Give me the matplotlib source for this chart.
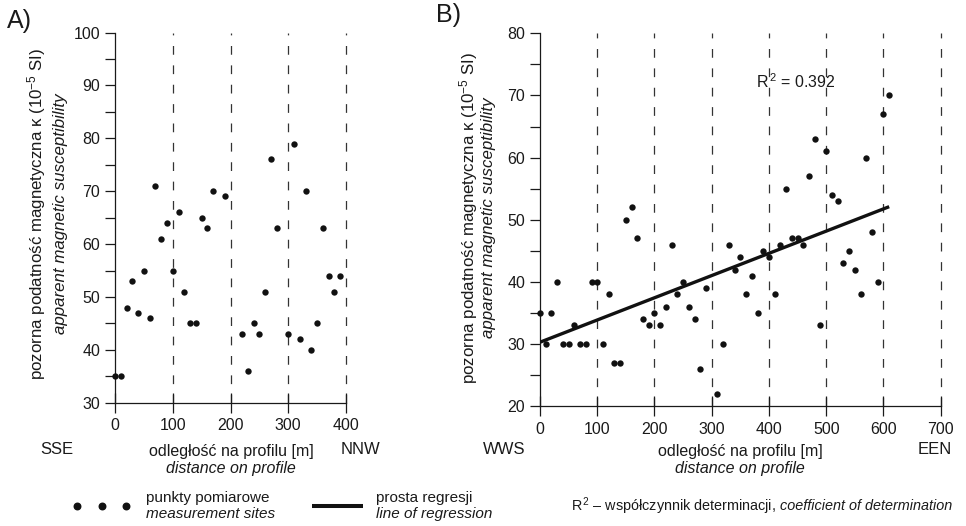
import numpy as np
import matplotlib
matplotlib.use("Agg")
import matplotlib.pyplot as plt
from matplotlib.lines import Line2D

plt.rcParams['font.family'] = ['Liberation Sans', 'DejaVu Sans']
plt.rcParams['mathtext.fontset'] = 'custom'
plt.rcParams['mathtext.rm'] = 'Liberation Sans'
plt.rcParams['mathtext.it'] = 'Liberation Sans:italic'
plt.rcParams['mathtext.bf'] = 'Liberation Sans:bold'

# ---------------- data ----------------
dist_A = [0, 10, 20, 30, 40, 50, 60, 70, 80, 90, 100, 110, 120, 130, 140, 150, 160, 170,
          190, 220, 230, 240, 250, 260, 270, 280, 300, 310, 320, 330, 340, 350, 360, 370,
          380, 390]
kappa_A = [35, 35, 48, 53, 47, 55, 46, 71, 61, 64, 55, 66, 51, 45, 45, 65, 63, 70,
           69, 43, 36, 45, 43, 51, 76, 63, 43, 79, 42, 70, 40, 45, 63, 54,
           51, 54]

dist_B = [0, 10, 20, 30, 40, 50, 60, 70, 80, 90, 100, 110, 120, 130, 140, 150, 160, 170,
          180, 190, 200, 210, 220, 230, 240, 250, 260, 270, 280, 290, 310, 320, 330, 340,
          350, 360, 370, 380, 390, 400, 410, 420, 430, 440, 450, 460, 470, 480, 490, 500,
          510, 520, 530, 540, 550, 560, 570, 580, 590, 600, 610]
kappa_B = [35, 30, 35, 40, 30, 30, 33, 30, 30, 40, 40, 30, 38, 27, 27, 50, 52, 47,
           34, 33, 35, 33, 36, 46, 38, 40, 36, 34, 26, 39, 22, 30, 46, 42,
           44, 38, 41, 35, 45, 44, 38, 46, 55, 47, 47, 46, 57, 63, 33, 61,
           54, 53, 43, 45, 42, 38, 60, 48, 40, 67, 70]

xticks_A = [0, 100, 200, 300, 400]
xticks_B = [0, 100, 200, 300, 400, 500, 600, 700]
yticks_A = [30, 40, 50, 60, 70, 80, 90, 100]
yticks_B = [20, 30, 40, 50, 60, 70, 80]
r2_label = "0.392"

# ---------------- figure ----------------
W, H = 966, 526
fig = plt.figure(figsize=(W / 100, H / 100), dpi=100)


def fx(x):
    return x / W


def fy(y):
    return 1 - y / H


axA = fig.add_axes([fx(115), fy(402.8), 231 / W, 370.3 / H])
axB = fig.add_axes([fx(540), fy(406.3), 400.7 / W, 373 / H])

INK = '#1a1a1a'
TICKFS = 11.5
R2 = r"R$^{\,2}$"


def style(ax, xticks, yticks):
    ax.set_xlim(xticks[0], xticks[-1])
    ax.set_ylim(yticks[0], yticks[-1])
    for s in ['top', 'right']:
        ax.spines[s].set_visible(False)
    for s in ['left', 'bottom']:
        ax.spines[s].set_linewidth(0.9)
        ax.spines[s].set_color(INK)
    ax.set_xticks(xticks)
    ax.set_yticks(yticks)
    ax.set_yticks(np.arange(yticks[0] + 5, yticks[-1], 10), minor=True)
    ax.tick_params(axis='y', which='both', direction='out', length=7.2, width=0.9,
                   color=INK, labelsize=TICKFS, pad=3.5, labelcolor=INK)
    ax.tick_params(axis='x', which='major', direction='inout', length=14, width=0.9,
                   color=INK, labelsize=TICKFS, pad=4, labelcolor=INK)
    ax.set_facecolor('none')
    # dashed verticals
    ax.vlines(xticks[1:], yticks[0], yticks[-1], colors='#333333', linewidth=0.9,
              linestyles=(0, (7, 8.5)), clip_on=False, zorder=1)


style(axA, xticks_A, yticks_A)
style(axB, xticks_B, yticks_B)

axA.scatter(dist_A, kappa_A, s=21, color='#111111', clip_on=False, zorder=3, linewidths=0)
axB.scatter(dist_B, kappa_B, s=21, color='#111111', clip_on=False, zorder=3, linewidths=0)

# regression line
slope, intercept = np.polyfit(dist_B, kappa_B, 1)
xr = np.array([min(dist_B), max(dist_B)])
axB.plot(xr, slope * xr + intercept, color='#111111', lw=2.4, solid_capstyle='butt', zorder=4)
axB.text(447, 72.2, R2 + " = " + r2_label, ha='center', va='center', fontsize=11.5, color=INK)

# ---------------- texts ----------------
fig.text(fx(7), fy(28), "A)", fontsize=18, ha='left', va='baseline', color=INK)
fig.text(fx(436), fy(22), "B)", fontsize=18, ha='left', va='baseline', color=INK)

ylab1 = "pozorna podatność magnetyczna κ (10$^{-5}$ SI)"
ylab2 = "apparent magnetic susceptibility"
for (x1, x2, yc) in [(37, 61, 214), (469, 488, 218)]:
    fig.text(fx(x1), fy(yc), ylab1, rotation=90, ha='center', va='center', fontsize=12.2, color=INK)
    fig.text(fx(x2), fy(yc), ylab2, rotation=90, ha='center', va='center', fontsize=12.2,
             style='italic', color=INK)

for xc in [231, 740]:
    fig.text(fx(xc), fy(451.7), "odległość na profilu [m]", ha='center', va='center',
             fontsize=11.5, color=INK)
    fig.text(fx(xc), fy(468.3), "distance on profile", ha='center', va='center',
             fontsize=11.5, style='italic', color=INK)

for lab, xc in [("SSE", 57), ("NNW", 360), ("WWS", 504), ("EEN", 935)]:
    fig.text(fx(xc), fy(450), lab, ha='center', va='center', fontsize=12, color=INK)

# ---------------- legend ----------------
fig.add_artist(Line2D([fx(76.7), fx(101.7), fx(126)], [fy(506)] * 3, transform=fig.transFigure,
                      linestyle='none', marker='o', markersize=4.7, color='#111111'))
fig.add_artist(Line2D([fx(312), fx(363)], [fy(506)] * 2, transform=fig.transFigure,
                      color='#111111', lw=2.9, solid_capstyle='butt'))
LFS = 11
fig.text(fx(145.7), fy(497.7), "punkty pomiarowe", ha='left', va='center', fontsize=LFS, color=INK)
fig.text(fx(145.7), fy(514.3), "measurement sites", ha='left', va='center', fontsize=LFS,
         style='italic', color=INK)
fig.text(fx(376), fy(497.7), "prosta regresji", ha='left', va='center', fontsize=LFS, color=INK)
fig.text(fx(376), fy(514.3), "line of regression", ha='left', va='center', fontsize=LFS,
         style='italic', color=INK)

# R^2 legend line: regular part + italic part, right end near x = 952 px
RFS = 10.4
x_end, y_line = 952, 506
t1 = fig.text(0, fy(y_line), R2 + " – współczynnik determinacji,",
              ha='left', va='center', fontsize=RFS, color=INK)
t2 = fig.text(0, fy(y_line), "coefficient of determination", ha='left', va='center',
              fontsize=RFS, style='italic', color=INK)
fig.canvas.draw()
r = fig.canvas.get_renderer()
w1 = t1.get_window_extent(r).width
w2 = t2.get_window_extent(r).width
gap = 0.278 * RFS * 100 / 72
x_start = x_end - (w1 + gap + w2)
t1.set_x(fx(x_start))
t2.set_x(fx(x_start + w1 + gap))

fig.savefig("out.png", dpi=100, facecolor='white')
